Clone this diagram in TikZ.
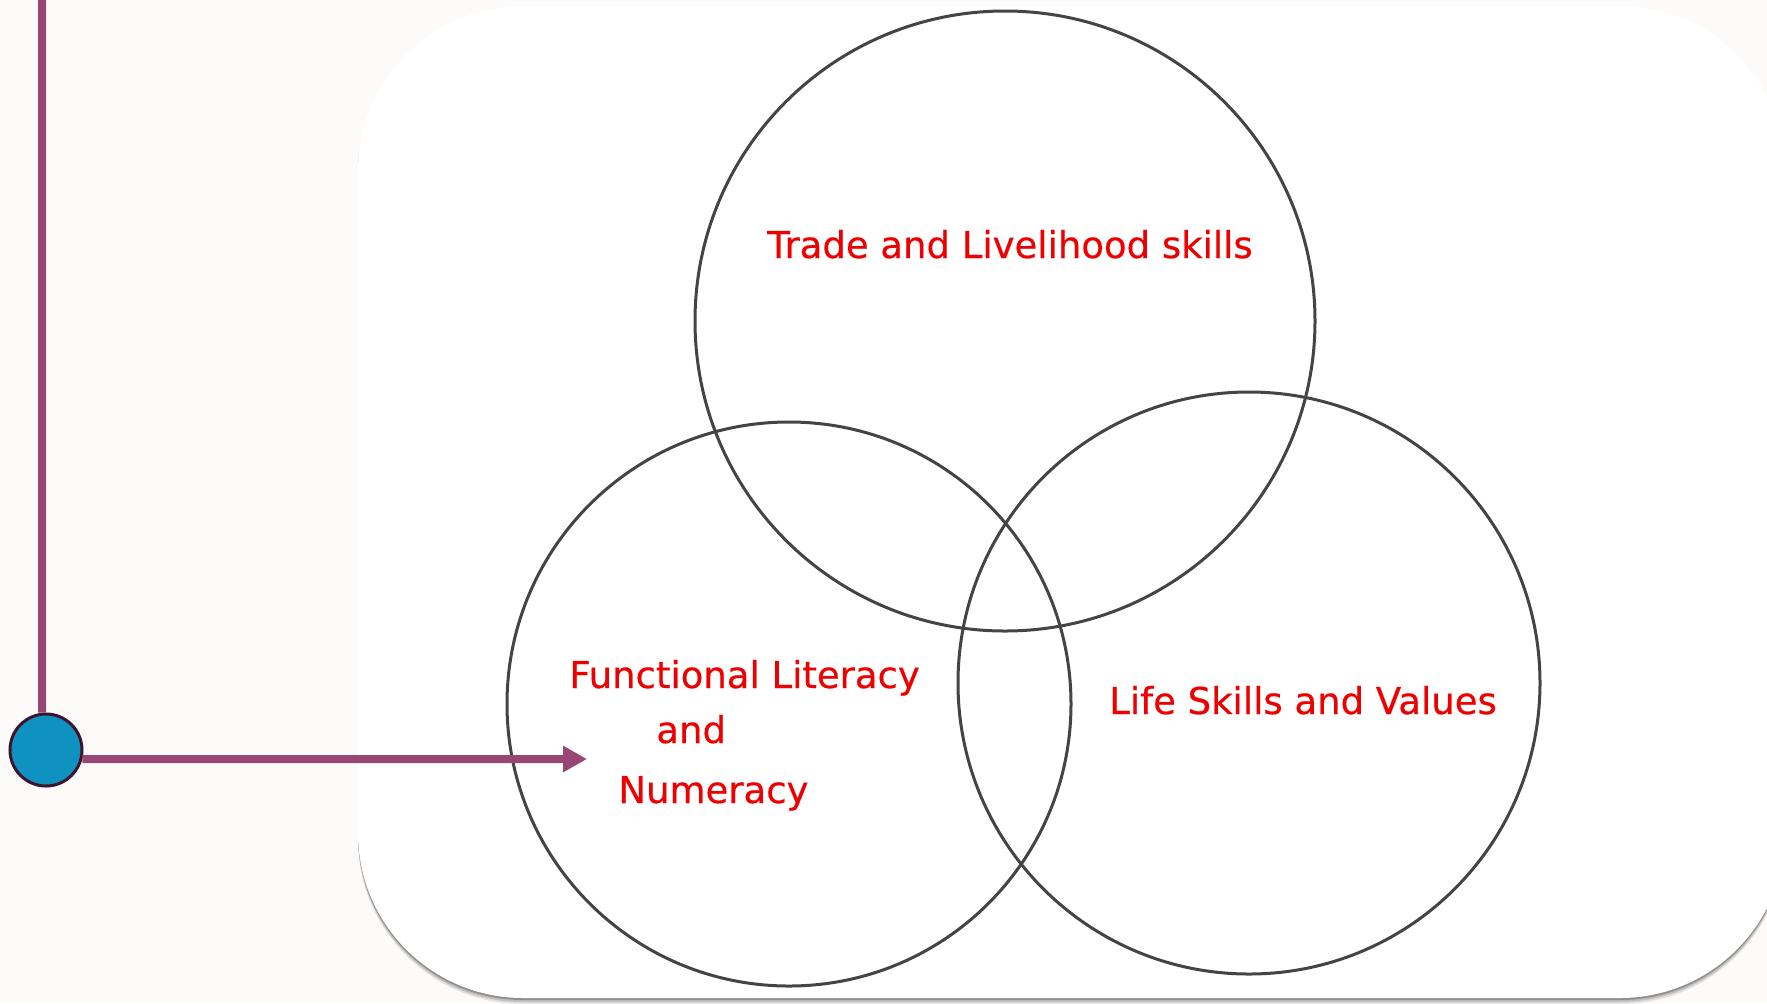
\documentclass[tikz,border=0pt]{standalone}
\usepackage{fontspec}
\newfontfamily\labelfont[FakeBold=0.5]{DejaVu Sans}
\usetikzlibrary{arrows.meta}
\definecolor{bgcream}{RGB}{252,251,250}
\definecolor{linkpurple}{RGB}{152,70,115}
\definecolor{dotblue}{RGB}{16,146,192}
\definecolor{dotrim}{RGB}{60,20,45}
\definecolor{ringgray}{RGB}{68,68,68}
\definecolor{labelred}{RGB}{238,0,0}
\tikzset{
  ring/.style={draw=ringgray, line width=1.5pt},
  setlabel/.style={text=labelred, inner sep=0pt, font=\labelfont\fontsize{18.5}{21}\selectfont},
  link/.style={draw=linkpurple, line width=4pt},
}
\begin{document}
\begin{tikzpicture}[x=0.5pt, y=-0.5pt]
  \useasboundingbox (0,0) rectangle (1767,1003);
  \fill[bgcream] (0,0) rectangle (1767,1003);

  % card with soft shadow
  \foreach \d/\o in {6/0.10, 4/0.15, 2/0.25}
    \fill[black, opacity=\o, rounded corners=82.5pt] (358,{6+\d}) rectangle (1785,{998+\d});
  \fill[white, rounded corners=82.5pt] (358,6) rectangle (1785,998);

  % Circles
  \draw[ring] (1005,321) circle (310);
  \draw[ring] (789,704) circle (282);
  \draw[ring] (1249,683) circle (291);

  \node[setlabel, anchor=base] (trade) at (1010,258) {Trade and Livelihood skills};
  \node[setlabel, anchor=base] (life) at (1303,714) {Life Skills and Values};
  \node[setlabel, anchor=base west] (func) at (569,688) {Functional Literacy};
  \node[setlabel, anchor=base west] (and) at (656,743) {and};
  \node[setlabel, anchor=base west] (numer) at (618,803) {Numeracy};

  % bullet and connector
  \node[circle, minimum size=36pt, inner sep=0pt, fill=dotblue, draw=dotrim, line width=1.5pt] (bullet) at (46,750) {};
  \coordinate (top) at (42,-5);
  \coordinate (tip) at (587,759);
  \draw[link] (top) -- (bullet.96);
  \draw[link, -{Triangle[length=12pt, width=12.5pt]}] (bullet.-14) -- (tip);
\end{tikzpicture}
\end{document}
